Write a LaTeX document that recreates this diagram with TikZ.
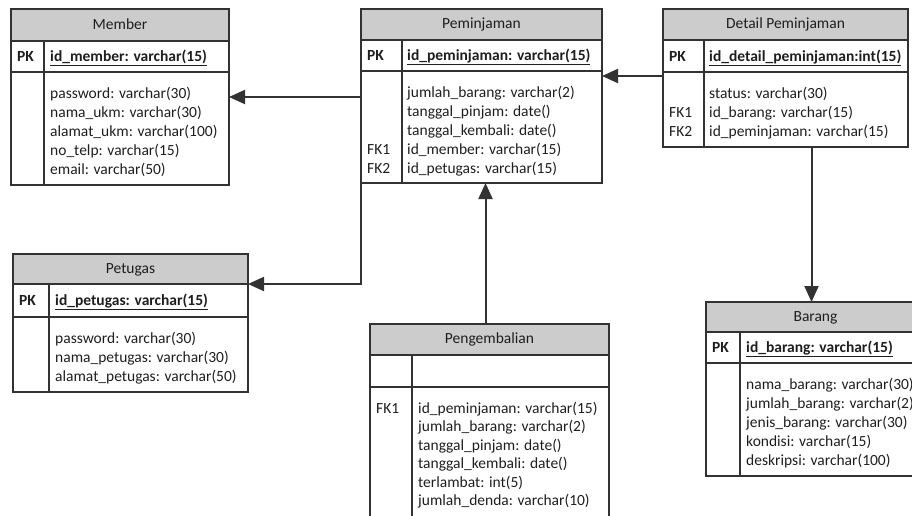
\documentclass[tikz,border=0pt]{standalone}
\usepackage{fontspec}
\setmainfont{Carlito}
\usetikzlibrary{arrows.meta,positioning,calc}
\newcommand{\attrfont}{\fontsize{15.5}{19}\selectfont}
\definecolor{linegray}{RGB}{50,50,50}
\definecolor{textgray}{RGB}{30,30,30}
\definecolor{hdrgray}{RGB}{204,204,204}

\begin{document}
\begin{tikzpicture}[x=1pt, y=-1pt,
    box/.style={draw=linegray, line width=1.5pt, inner sep=0pt, outer sep=0pt, anchor=north west},
    hdr/.style={box, fill=hdrgray, font=\attrfont, text=textgray, text height=11pt, text depth=3pt},
    attr/.style={anchor=base west, inner sep=0pt, font=\attrfont, text=textgray},
    pk/.style={attr, font=\attrfont\bfseries},
    fk/.style={draw=linegray, line width=2pt, -{Triangle[length=16pt, width=14pt]}}]
    \useasboundingbox (0,0) rectangle (912,515);
    \clip (0,0) rectangle (912,515);

    % Member
    \node[hdr, minimum width=218pt, minimum height=32pt] (memH) at (11,9) {Member};
    \node[box, minimum width=33pt, minimum height=31pt] (memPK) at (memH.south west) {};
    \node[box, minimum width=185pt, minimum height=31pt] (memPKa) at (memPK.north east) {};
    \node[box, minimum width=33pt, minimum height=113pt] (memK) at (memPK.south west) {};
    \node[box, minimum width=185pt, minimum height=113pt] (memB) at (memK.north east) {};
    \node[pk] (memPKt) at ([xshift=6pt, yshift=-5pt]memPK.west) {PK};
    \node[pk] (memId) at ([xshift=6pt, yshift=-5pt]memPKa.west) {\underline{id\_member: varchar(15)}};
    \foreach \t [count=\i] in {password: varchar(30), nama\_ukm: varchar(30), alamat\_ukm: varchar(100), no\_telp: varchar(15), email: varchar(50)}
        \node[attr] (memA\i) at ([xshift=6pt, yshift={-26pt-19pt*(\i-1)}]memB.north west) {\t};

    % Peminjaman
    \node[hdr, minimum width=241pt, minimum height=31pt] (pemH) at (361,9) {Peminjaman};
    \node[box, minimum width=41pt, minimum height=31pt] (pemPK) at (pemH.south west) {};
    \node[box, minimum width=200pt, minimum height=31pt] (pemPKa) at (pemPK.north east) {};
    \node[box, minimum width=41pt, minimum height=112pt] (pemK) at (pemPK.south west) {};
    \node[box, minimum width=200pt, minimum height=112pt] (pemB) at (pemK.north east) {};
    \node[pk] (pemPKt) at ([xshift=6pt, yshift=-5pt]pemPK.west) {PK};
    \node[pk] (pemId) at ([xshift=5pt, yshift=-5pt]pemPKa.west) {\underline{id\_peminjaman: varchar(15)}};
    \foreach \t [count=\i] in {jumlah\_barang: varchar(2), tanggal\_pinjam: date(), tanggal\_kembali: date(), id\_member: varchar(15), id\_petugas: varchar(15)}
        \node[attr] (pemA\i) at ([xshift=5pt, yshift={-26pt-19pt*(\i-1)}]pemB.north west) {\t};
    \node[attr, xshift=6pt] (pemFK1) at (pemK.west |- pemA4.base) {FK1};
    \node[attr, xshift=6pt] (pemFK2) at (pemK.west |- pemA5.base) {FK2};

    % Detail Peminjaman
    \node[hdr, minimum width=245pt, minimum height=31pt] (detH) at (663,9) {Detail Peminjaman};
    \node[box, minimum width=41pt, minimum height=32pt] (detPK) at (detH.south west) {};
    \node[box, minimum width=204pt, minimum height=32pt] (detPKa) at (detPK.north east) {};
    \node[box, minimum width=41pt, minimum height=75pt] (detK) at (detPK.south west) {};
    \node[box, minimum width=204pt, minimum height=75pt] (detB) at (detK.north east) {};
    \node[pk] (detPKt) at ([xshift=6pt, yshift=-5pt]detPK.west) {PK};
    \node[pk] (detId) at ([xshift=5pt, yshift=-5pt]detPKa.west) {\underline{id\_detail\_peminjaman:int(15)}};
    \foreach \t [count=\i] in {status: varchar(30), id\_barang: varchar(15), id\_peminjaman: varchar(15)}
        \node[attr] (detA\i) at ([xshift=5pt, yshift={-26pt-19pt*(\i-1)}]detB.north west) {\t};
    \node[attr, xshift=6pt] (detFK1) at (detK.west |- detA2.base) {FK1};
    \node[attr, xshift=6pt] (detFK2) at (detK.west |- detA3.base) {FK2};

    % Petugas
    \node[hdr, minimum width=235pt, minimum height=30pt] (petH) at (13,254) {Petugas};
    \node[box, minimum width=36pt, minimum height=33pt] (petPK) at (petH.south west) {};
    \node[box, minimum width=199pt, minimum height=33pt] (petPKa) at (petPK.north east) {};
    \node[box, minimum width=36pt, minimum height=75pt] (petK) at (petPK.south west) {};
    \node[box, minimum width=199pt, minimum height=75pt] (petB) at (petK.north east) {};
    \node[pk] (petPKt) at ([xshift=6pt, yshift=-5pt]petPK.west) {PK};
    \node[pk] (petId) at ([xshift=6pt, yshift=-5pt]petPKa.west) {\underline{id\_petugas: varchar(15)}};
    \foreach \t [count=\i] in {password: varchar(30), nama\_petugas: varchar(30), alamat\_petugas: varchar(50)}
        \node[attr] (petA\i) at ([xshift=6pt, yshift={-26pt-19pt*(\i-1)}]petB.north west) {\t};

    % Pengembalian
    \node[hdr, minimum width=239pt, minimum height=31pt] (pgH) at (370,324) {Pengembalian};
    \node[box, minimum width=42pt, minimum height=32pt] (pgPK) at (pgH.south west) {};
    \node[box, minimum width=197pt, minimum height=32pt] (pgPKa) at (pgPK.north east) {};
    \node[box, minimum width=42pt, minimum height=150pt] (pgK) at (pgPK.south west) {};
    \node[box, minimum width=197pt, minimum height=150pt] (pgB) at (pgK.north east) {};
    \foreach \t [count=\i] in {id\_peminjaman: varchar(15), jumlah\_barang: varchar(2), tanggal\_pinjam: date(), tanggal\_kembali: date(), terlambat: int(5), jumlah\_denda: varchar(10)}
        \node[attr] (pgA\i) at ([xshift=6pt, yshift={-26pt-18.5pt*(\i-1)}]pgB.north west) {\t};
    \node[attr, xshift=6pt] (pgFK1) at (pgK.west |- pgA1.base) {FK1};

    % Barang
    \node[hdr, minimum width=219pt, minimum height=30pt] (barH) at (706,302) {Barang};
    \node[box, minimum width=34pt, minimum height=31pt] (barPK) at (barH.south west) {};
    \node[box, minimum width=185pt, minimum height=31pt] (barPKa) at (barPK.north east) {};
    \node[box, minimum width=34pt, minimum height=113pt] (barK) at (barPK.south west) {};
    \node[box, minimum width=185pt, minimum height=113pt] (barB) at (barK.north east) {};
    \node[pk] (barPKt) at ([xshift=6pt, yshift=-5pt]barPK.west) {PK};
    \node[pk] (barId) at ([xshift=6pt, yshift=-5pt]barPKa.west) {\underline{id\_barang: varchar(15)}};
    \foreach \t [count=\i] in {nama\_barang: varchar(30), jumlah\_barang: varchar(2), jenis\_barang: varchar(30), kondisi: varchar(15), deskripsi: varchar(100)}
        \node[attr] (barA\i) at ([xshift=6pt, yshift={-26pt-19pt*(\i-1)}]barB.north west) {\t};

    % Relations
    \coordinate (memIn) at ([yshift=-25pt]memB.north east);
    \draw[fk] (pemK.west |- memIn) -- (memIn);
    \coordinate (pemIn) at ([yshift=-5pt]pemB.north east);
    \draw[fk] (detK.west |- pemIn) -- (pemIn);
    \coordinate (barIn) at ([xshift=-4pt]barH.north);
    \draw[fk] (detB.south -| barIn) -- (barIn);
    \draw[fk] (pemK.south west) |- (petH.south east);
    \coordinate (pgOut) at ([xshift=-4pt]pgH.north);
    \draw[fk] (pgOut) -- (pgOut |- pemB.south);
\end{tikzpicture}
\end{document}
